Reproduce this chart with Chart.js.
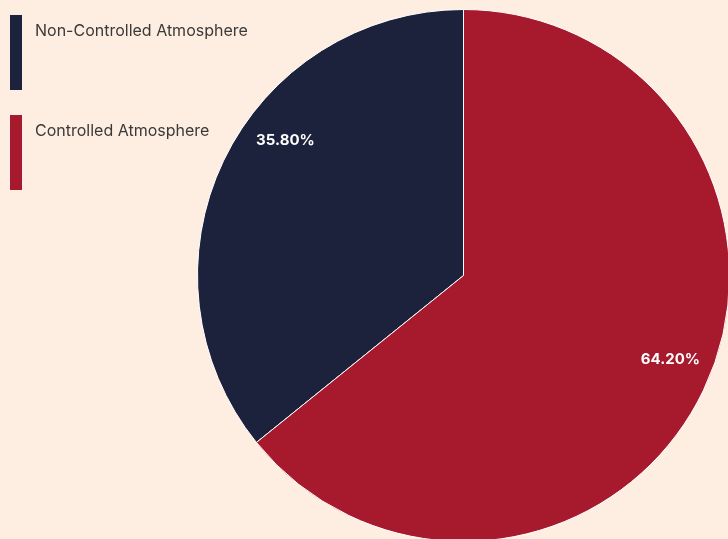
<!DOCTYPE html>
<html>
<head>
<meta charset="utf-8">
<script src="https://cdn.jsdelivr.net/npm/chart.js@4/dist/chart.umd.min.js"></script>
<style>
  html, body { margin: 0; padding: 0; background: #feede1; overflow: hidden; }
  #wrap { position: absolute; left: 0; top: 0; width: 740px; height: 552px; }
  #legend { position: absolute; left: 10px; top: 15px; font-family: Inter, sans-serif; font-size: 16px; color: #3a3a3a; }
  .item { position: relative; height: 100px; }
  .sw { position: absolute; left: 0; top: 0; width: 12px; height: 75px; }
  .lbl { position: absolute; left: 25px; top: 5px; white-space: nowrap; }
</style>
</head>
<body>
<div id="wrap"><canvas id="pie"></canvas></div>
<div id="legend"></div>
<script>
var labels = ['Non-Controlled Atmosphere', 'Controlled Atmosphere'];
var shares = [35.8, 64.2];
var colors = ['#1c223b', '#a71a2d'];

// legend
var html = '';
for (var i = 0; i < labels.length; i++)
  html += '<div class="item"><div class="sw" style="background:' + colors[i] + '"></div><div class="lbl">' + labels[i] + '</div></div>';
document.getElementById('legend').innerHTML = html;

// percent labels on the slices
var sliceLabels = {
  id: 'sliceLabels',
  afterDatasetsDraw(chart, args, opts) {
    var ctx = chart.ctx;
    var meta = chart.getDatasetMeta(0);
    ctx.save();
    ctx.font = 'bold 15px Inter, sans-serif';
    ctx.fillStyle = '#ffffff';
    ctx.textAlign = 'center';
    ctx.textBaseline = 'middle';
    meta.data.forEach(function (arc, i) {
      var p = arc.getProps(['x', 'y', 'startAngle', 'endAngle', 'outerRadius'], true);
      var a = (p.startAngle + p.endAngle) / 2 + opts.nudge[i] * Math.PI / 180;
      var r = p.outerRadius * opts.radius;
      ctx.fillText(shares[i].toFixed(2) + '%', p.x + Math.cos(a) * r, p.y + Math.sin(a) * r);
    });
    ctx.restore();
  }
};

var ctx = document.getElementById('pie').getContext('2d');
var myChart = new Chart(ctx, {
  type: 'pie',
  data: {
    labels: labels,
    datasets: [{
      data: shares,
      backgroundColor: colors,
      borderColor: '#ffffff',
      borderWidth: 1
    }]
  },
  options: {
    responsive: true,
    maintainAspectRatio: false,
    animation: false,
    rotation: -shares[0] * 3.6,
    layout: { padding: { left: 197, top: 9, right: 10, bottom: 10 } },
    plugins: {
      legend: { display: false },
      tooltip: { enabled: false },
      sliceLabels: { radius: 0.84, nudge: [11.6, -3.4] }
    }
  },
  plugins: [sliceLabels]
});
</script>
</body>
</html>
